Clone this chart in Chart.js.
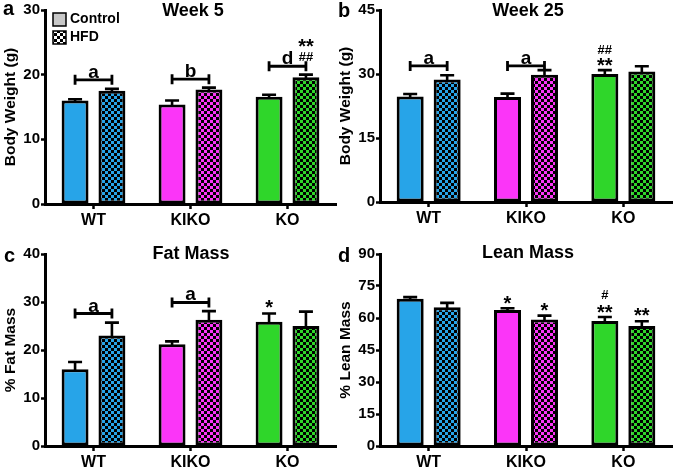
<!DOCTYPE html>
<html><head><meta charset="utf-8">
<script src="https://cdn.jsdelivr.net/npm/chart.js@4.4.0/dist/chart.umd.min.js"></script>
<style>
html,body{margin:0;padding:0;background:#fff;}
#wrap{position:relative;width:675px;height:469px;overflow:hidden;}
.p{position:absolute;}
</style></head><body>
<div id="wrap">
<div class="p" style="left:0;top:0;width:337px;height:234px"><canvas id="ca"></canvas></div>
<div class="p" style="left:337px;top:0;width:338px;height:234px"><canvas id="cb"></canvas></div>
<div class="p" style="left:0;top:234px;width:337px;height:235px"><canvas id="cc"></canvas></div>
<div class="p" style="left:337px;top:234px;width:338px;height:235px"><canvas id="cd"></canvas></div>
</div>
<script>
// ---- data ----
const categories = ['WT', 'KIKO', 'KO'];
const seriesNames = ['Control', 'HFD'];

const week5Control = [16.0, 15.4, 16.6];
const week5ControlErr = [0.2, 0.6, 0.3];
const week5HFD = [17.5, 17.7, 19.6];
const week5HFDErr = [0.3, 0.3, 0.4];

const week25Control = [24.7, 24.6, 30.0];
const week25ControlErr = [0.6, 0.8, 0.9];
const week25HFD = [28.7, 29.8, 30.6];
const week25HFDErr = [1.0, 1.1, 1.2];

const fatControl = [16.0, 21.2, 25.9];
const fatControlErr = [1.5, 0.6, 1.7];
const fatHFD = [23.0, 26.3, 25.0];
const fatHFDErr = [2.7, 1.8, 3.0];

const leanControl = [69.0, 63.7, 58.6];
const leanControlErr = [0.8, 0.9, 1.9];
const leanHFD = [65.0, 59.3, 56.2];
const leanHFDErr = [2.1, 1.8, 2.3];

// significance brackets: [category index, level, letter]
const week5Brackets = [[0, 19.2, 'a'], [1, 19.3, 'b'], [2, 21.3, 'd']];
const week25Brackets = [[0, 31.9, 'a'], [1, 31.9, 'a']];
const fatBrackets = [[0, 27.6, 'a'], [1, 29.9, 'a']];
const leanBrackets = [];

// marks: [category index, series index (0 control, 1 HFD), level, text]
const week5Marks = [[2, 1, 24.6, '**'], [2, 1, 22.6, '##']];
const week25Marks = [[2, 0, 35.6, '##'], [2, 0, 32.4, '**']];
const fatMarks = [[2, 0, 29.2, '*']];
const leanMarks = [[1, 0, 67.6, '*'], [1, 1, 64.4, '*'], [2, 0, 70.8, '#'], [2, 0, 63.4, '**'], [2, 1, 61.8, '**']];

// ---- styles ----
const FONT = "'Liberation Sans', Arial, Helvetica, sans-serif";
const colors = ['#27a4e8', '#fb35f8', '#2fd62a'];

function checker(color, cell) {
  const c = document.createElement('canvas');
  c.width = cell * 2; c.height = cell * 2;
  const x = c.getContext('2d');
  x.fillStyle = '#000'; x.fillRect(0, 0, cell * 2, cell * 2);
  x.fillStyle = color;
  x.fillRect(0, 0, cell, cell); x.fillRect(cell, cell, cell, cell);
  return x.createPattern(c, 'repeat');
}

const deco = {
  id: 'deco',
  afterDatasetsDraw(chart, args, o) {
    const ctx = chart.ctx;
    const ys = chart.scales.y;
    ctx.save();
    ctx.strokeStyle = '#000';
    ctx.fillStyle = '#000';
    // error bars
    o.errs.forEach((errArr, di) => {
      const meta = chart.getDatasetMeta(di);
      const vals = chart.data.datasets[di].data;
      meta.data.forEach((el, j) => {
        const yTop = el.y;
        const yE = ys.getPixelForValue(vals[j] + errArr[j]);
        ctx.lineWidth = 2.6;
        ctx.beginPath();
        ctx.moveTo(el.x, yTop + 1); ctx.lineTo(el.x, yE);
        ctx.moveTo(el.x - 7, yE); ctx.lineTo(el.x + 7, yE);
        ctx.stroke();
      });
    });
    // brackets
    o.brackets.forEach(([ci, lvl, txt]) => {
      const x1 = chart.getDatasetMeta(0).data[ci].x;
      const x2 = chart.getDatasetMeta(1).data[ci].x;
      const y = ys.getPixelForValue(lvl);
      ctx.lineWidth = 2.8;
      ctx.beginPath();
      ctx.moveTo(x1, y); ctx.lineTo(x2, y);
      ctx.moveTo(x1, y - 5); ctx.lineTo(x1, y + 5);
      ctx.moveTo(x2, y - 5); ctx.lineTo(x2, y + 5);
      ctx.stroke();
      ctx.font = 'bold 19px ' + FONT;
      ctx.textAlign = 'center';
      ctx.textBaseline = 'alphabetic';
      ctx.fillText(txt, (x1 + x2) / 2, y - 2);
    });
    // marks
    o.marks.forEach(([ci, si, lvl, txt]) => {
      const x = chart.getDatasetMeta(si).data[ci].x;
      const y = ys.getPixelForValue(lvl);
      const star = txt.indexOf('*') >= 0;
      ctx.font = 'bold ' + (star ? 20 : 13) + 'px ' + FONT;
      ctx.textAlign = 'center';
      ctx.textBaseline = 'middle';
      ctx.fillText(txt, x, star ? y + 2.5 : y);
    });
    ctx.restore();
  },
  afterDraw(chart, args, o) {
    const ctx = chart.ctx;
    const ca = chart.chartArea;
    ctx.save();
    ctx.fillStyle = '#000';
    // panel letter
    ctx.font = 'bold 20px ' + FONT;
    ctx.textAlign = 'left';
    ctx.textBaseline = 'alphabetic';
    ctx.fillText(o.letter, o.letterX, o.letterY);
    // title
    ctx.font = 'bold 18px ' + FONT;
    ctx.textAlign = 'center';
    ctx.textBaseline = 'middle';
    ctx.fillText(o.title, o.titleX, o.titleY);
    // y title
    ctx.save();
    ctx.translate(ca.left - 34, (ca.top + ca.bottom) / 2);
    ctx.rotate(-Math.PI / 2);
    ctx.font = 'bold 15.5px ' + FONT;
    ctx.textAlign = 'center';
    ctx.textBaseline = 'middle';
    ctx.fillText(o.yTitle, 0, 0);
    ctx.restore();
    // legend
    if (o.legend) {
      const lx = 53;
      ctx.lineWidth = 1.5;
      ctx.fillStyle = '#c8c8c8';
      ctx.fillRect(lx, 13, 13, 13);
      ctx.strokeStyle = '#000';
      ctx.strokeRect(lx, 13, 13, 13);
      ctx.fillStyle = checker('#ffffff', 3);
      ctx.fillRect(lx, 31, 13, 13);
      ctx.strokeRect(lx, 31, 13, 13);
      ctx.fillStyle = '#000';
      ctx.font = 'bold 14px ' + FONT;
      ctx.textAlign = 'left';
      ctx.textBaseline = 'middle';
      ctx.fillText(seriesNames[0], lx + 17, 19.5);
      ctx.fillText(seriesNames[1], lx + 17, 37.5);
    }
    ctx.restore();
  }
};

function makeChart(id, ctrl, hfd, ctrlErr, hfdErr, yMax, yStep, pad, xH, deco_) {
  const el = document.getElementById(id);
  const hfdPat = colors.map(c => checker(c, 3));
  return new Chart(el, {
    type: 'bar',
    data: {
      labels: categories,
      datasets: [
        { label: seriesNames[0], data: ctrl, backgroundColor: colors, borderColor: '#000', borderWidth: 3, borderSkipped: false,
          categoryPercentage: 0.76, barPercentage: 0.73 },
        { label: seriesNames[1], data: hfd, backgroundColor: hfdPat, borderColor: '#000', borderWidth: 3, borderSkipped: false,
          categoryPercentage: 0.76, barPercentage: 0.73 }
      ]
    },
    options: {
      responsive: true, maintainAspectRatio: false, animation: false,
      devicePixelRatio: 1,
      layout: { padding: pad },
      plugins: { legend: { display: false }, tooltip: { enabled: false }, title: { display: false },
        deco: Object.assign({ errs: [ctrlErr, hfdErr] }, deco_) },
      scales: {
        x: {
          grid: { display: true, drawOnChartArea: false, offset: false, drawTicks: true, tickLength: 5, tickWidth: 2.5, tickColor: '#000' },
          border: { display: true, color: '#000', width: 3 },
          ticks: { color: '#000', font: { family: FONT, weight: 'bold', size: 16 }, padding: 2 },
          afterFit(s) { s.height = xH; }
        },
        y: {
          min: 0, max: yMax,
          grid: { display: true, drawOnChartArea: false, drawTicks: true, tickLength: 4, tickWidth: 2.5, tickColor: '#000' },
          border: { display: true, color: '#000', width: 3 },
          ticks: { stepSize: yStep, color: '#000', font: { family: FONT, weight: 'bold', size: 15 }, padding: 1 },
          afterFit(s) { s.width = pad.yw; }
        }
      }
    },
    plugins: [deco]
  });
}

makeChart('ca', week5Control, week5HFD, week5ControlErr, week5HFDErr, 30, 10,
  { top: 10, right: 1, left: 0, bottom: 0, yw: 45 }, 30,
  { letter: 'a', letterX: 3, letterY: 15, title: 'Week 5', titleX: 193, titleY: 11, yTitle: 'Body Weight (g)', brackets: week5Brackets, marks: week5Marks, legend: true });
makeChart('cb', week25Control, week25HFD, week25ControlErr, week25HFDErr, 45, 15,
  { top: 9, right: 3, left: 0, bottom: 0, yw: 43 }, 32,
  { letter: 'b', letterX: 1, letterY: 17, title: 'Week 25', titleX: 191, titleY: 11, yTitle: 'Body Weight (g)', brackets: week25Brackets, marks: week25Marks, legend: false });
makeChart('cc', fatControl, fatHFD, fatControlErr, fatHFDErr, 40, 10,
  { top: 20, right: 1, left: 0, bottom: 0, yw: 45 }, 23,
  { letter: 'c', letterX: 4, letterY: 28, title: 'Fat Mass', titleX: 191, titleY: 20, yTitle: '% Fat Mass', brackets: fatBrackets, marks: fatMarks, legend: false });
makeChart('cd', leanControl, leanHFD, leanControlErr, leanHFDErr, 90, 15,
  { top: 20, right: 3, left: 0, bottom: 0, yw: 43 }, 23,
  { letter: 'd', letterX: 1, letterY: 28, title: 'Lean Mass', titleX: 191, titleY: 19, yTitle: '% Lean Mass', brackets: leanBrackets, marks: leanMarks, legend: false });
</script>
</body></html>
